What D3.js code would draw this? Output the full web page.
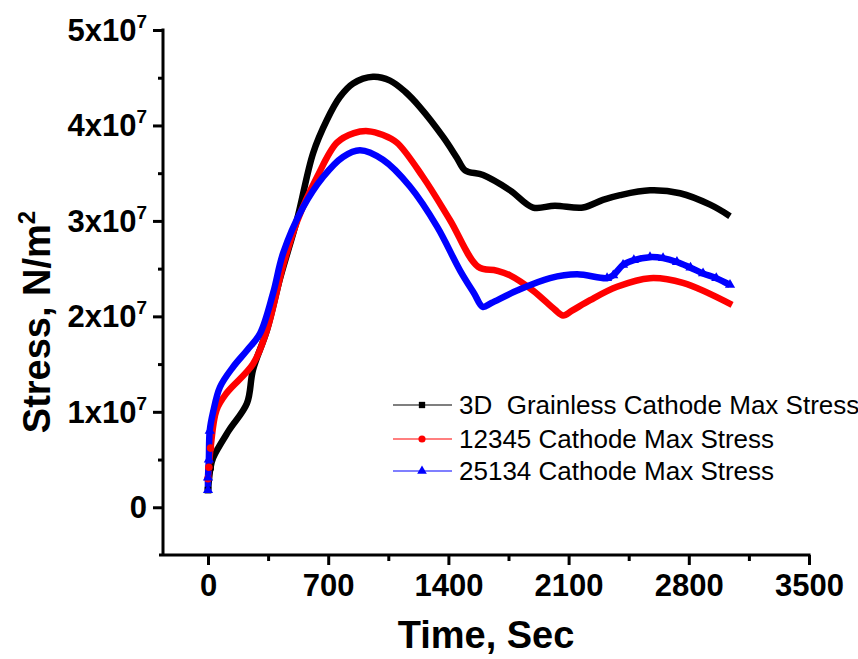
<!DOCTYPE html>
<html>
<head>
<meta charset="utf-8">
<script src="https://cdn.jsdelivr.net/npm/d3@7"></script>
<style>
  body { margin: 0; background: #fff; }
  text { font-family: 'Liberation Sans', Arial, sans-serif; }
</style>
</head>
<body>
<div class="canvas"></div>
<script>
// data (time in s, stress in N/m^2)
const grainlessTime = [0, 15, 30, 120, 227, 262, 344, 420, 518, 612, 693, 769, 845, 961, 1060, 1150, 1235, 1369, 1450, 1497, 1602, 1759, 1893, 2020, 2184, 2300, 2400, 2574, 2749, 2924, 3040];
const grainlessStress = [0.18e7, 0.42e7, 0.52e7, 0.80e7, 1.09e7, 1.44e7, 1.86e7, 2.40e7, 3.01e7, 3.71e7, 4.06e7, 4.30e7, 4.44e7, 4.51e7, 4.47e7, 4.35e7, 4.19e7, 3.88e7, 3.66e7, 3.53e7, 3.48e7, 3.32e7, 3.14e7, 3.16e7, 3.14e7, 3.22e7, 3.27e7, 3.32e7, 3.29e7, 3.17e7, 3.05e7];

const s12345Time = [0, 5, 15, 50, 110, 262, 344, 440, 520, 635, 751, 850, 932, 1020, 1100, 1252, 1409, 1573, 1680, 1759, 1893, 2020, 2068, 2120, 2225, 2382, 2574, 2766, 3052];
const s12345Stress = [0.30e7, 0.42e7, 0.62e7, 1.02e7, 1.20e7, 1.50e7, 1.86e7, 2.55e7, 3.00e7, 3.46e7, 3.82e7, 3.92e7, 3.94e7, 3.90e7, 3.82e7, 3.46e7, 3.01e7, 2.52e7, 2.48e7, 2.43e7, 2.27e7, 2.07e7, 2.01e7, 2.06e7, 2.17e7, 2.31e7, 2.40e7, 2.35e7, 2.12e7];

const s25134Time = [0, 0, 5, 10, 30, 70, 146, 230, 303, 380, 437, 553, 670, 786, 885, 1019, 1176, 1334, 1468, 1550, 1600, 1650, 1800, 1992, 2149, 2324, 2360, 2417, 2480, 2574, 2650, 2731, 2810, 2883, 2960, 3040];
const s25134Stress = [0.18e7, 0.31e7, 0.50e7, 0.80e7, 1.00e7, 1.26e7, 1.47e7, 1.65e7, 1.82e7, 2.25e7, 2.66e7, 3.14e7, 3.46e7, 3.67e7, 3.74e7, 3.64e7, 3.36e7, 2.94e7, 2.48e7, 2.24e7, 2.10e7, 2.14e7, 2.27e7, 2.40e7, 2.44e7, 2.40e7, 2.43e7, 2.54e7, 2.59e7, 2.62e7, 2.61e7, 2.57e7, 2.51e7, 2.45e7, 2.40e7, 2.33e7];

const seriesNames = ['3D  Grainless Cathode Max Stress', '12345 Cathode Max Stress', '25134 Cathode Max Stress'];
const seriesColors = ['#000000', '#ff0000', '#0000ff'];
const seriesSymbols = [d3.symbolSquare, d3.symbolCircle, d3.symbolTriangle];

const xTicks = [0, 700, 1400, 2100, 2800, 3500];
const xMinorTicks = [350, 1050, 1750, 2450, 3150];
const yTicks = [0, 1e7, 2e7, 3e7, 4e7, 5e7];
const yMinorTicks = [0.5e7, 1.5e7, 2.5e7, 3.5e7, 4.5e7];

const svg = d3.select('.canvas')
    .append('svg')
    .attr('width', 858)
    .attr('height', 659);

const x = d3.scaleLinear()
    .domain([0, 3500])
    .range([208, 809]);

const y = d3.scaleLinear()
    .domain([-0.5e7, 5e7])
    .range([555, 30]);

const axisX0 = 163;   // where the y axis sits
const axisY0 = y(-0.5e7);

// axes (Origin style: major ticks outside, minor ticks shorter)
const xAxis = d3.axisBottom(x).tickValues(xTicks).tickSize(10).tickPadding(9).tickFormat(d3.format('d'));
const xMinor = d3.axisBottom(x).tickValues(xMinorTicks).tickSize(6).tickFormat('');
const yAxis = d3.axisLeft(y).tickValues(yTicks).tickSize(10).tickFormat('');
const yMinor = d3.axisLeft(y).tickValues(yMinorTicks).tickSize(5).tickFormat('');

const xAxisGroup = svg.append('g').attr('transform', `translate(0, ${axisY0})`).call(xAxis);
svg.append('g').attr('transform', `translate(0, ${axisY0})`).call(xMinor);
svg.append('g').attr('transform', `translate(${axisX0}, 0)`).call(yAxis);
svg.append('g').attr('transform', `translate(${axisX0}, 0)`).call(yMinor);

svg.selectAll('.domain').remove();
svg.selectAll('.tick line').attr('stroke', '#000').attr('stroke-width', 3);

xAxisGroup.selectAll('text')
    .attr('fill', '#000')
    .attr('font-size', 31)
    .attr('font-weight', 'bold')
    .attr('font-family', "'Liberation Sans', Arial, sans-serif");

// axis lines
svg.append('line')
    .attr('x1', axisX0 - 4).attr('x2', x(3500) + 1.5)
    .attr('y1', axisY0).attr('y2', axisY0)
    .attr('stroke', '#000').attr('stroke-width', 3);
svg.append('line')
    .attr('x1', axisX0).attr('x2', axisX0)
    .attr('y1', y(5e7) - 1.5).attr('y2', axisY0)
    .attr('stroke', '#000').attr('stroke-width', 3);

// y tick labels with superscript exponent
yTicks.forEach(v => {
    const t = svg.append('text')
        .attr('x', 147)
        .attr('y', y(v) + 11)
        .attr('text-anchor', 'end')
        .attr('font-size', 31)
        .attr('font-weight', 'bold');
    if (v === 0) {
        t.text('0');
    } else {
        t.append('tspan').text((v / 1e7) + 'x10');
        t.append('tspan').attr('dy', -13).attr('font-size', 19).text('7');
    }
});

// lines
const line = d3.line()
    .curve(d3.curveCatmullRom.alpha(0.5))
    .x(d => x(d[0]))
    .y(d => y(d[1]));

const series = [
    d3.zip(grainlessTime, grainlessStress),
    d3.zip(s12345Time, s12345Stress),
    d3.zip(s25134Time, s25134Stress)
];

series.forEach((pts, i) => {
    svg.append('path')
        .datum(pts)
        .attr('fill', 'none')
        .attr('stroke', seriesColors[i])
        .attr('stroke-width', 6.5)
        .attr('stroke-linejoin', 'round')
        .attr('d', line);
});

// markers at the dense first points, and along the end of the 25134 curve
series.forEach((pts, i) => {
    const marked = pts.filter(d => d[0] <= 15 || (i === 2 && d[0] >= 2324));
    svg.selectAll(null)
        .data(marked)
        .enter()
        .append('path')
        .attr('d', d3.symbol().type(seriesSymbols[i]).size(45))
        .attr('fill', seriesColors[i])
        .attr('transform', d => `translate(${x(d[0])},${y(d[1])})`);
});

// legend
const legendRows = [405, 439, 471];
seriesNames.forEach((name, i) => {
    const g = svg.append('g').attr('transform', `translate(0, ${legendRows[i]})`);
    g.append('line')
        .attr('x1', 393).attr('x2', 452)
        .attr('stroke', seriesColors[i]).attr('stroke-width', 1.2);
    g.append('path')
        .attr('d', d3.symbol().type(seriesSymbols[i]).size(40))
        .attr('fill', seriesColors[i])
        .attr('transform', 'translate(422,0)');
    g.append('text')
        .attr('x', 459).attr('y', 9)
        .attr('font-size', 26)
        .attr('fill', '#000')
        .style('white-space', 'pre')
        .text(name);
});

// axis titles
svg.append('text')
    .attr('x', 486).attr('y', 648)
    .attr('text-anchor', 'middle')
    .attr('font-size', 38)
    .attr('font-weight', 'bold')
    .text('Time, Sec');

const yTitle = svg.append('text')
    .attr('transform', 'translate(50, 322) rotate(-90)')
    .attr('text-anchor', 'middle')
    .attr('font-size', 38)
    .attr('font-weight', 'bold');
yTitle.append('tspan').text('Stress, N/m');
yTitle.append('tspan').attr('dy', -15).attr('font-size', 24).text('2');
</script>
</body>
</html>
